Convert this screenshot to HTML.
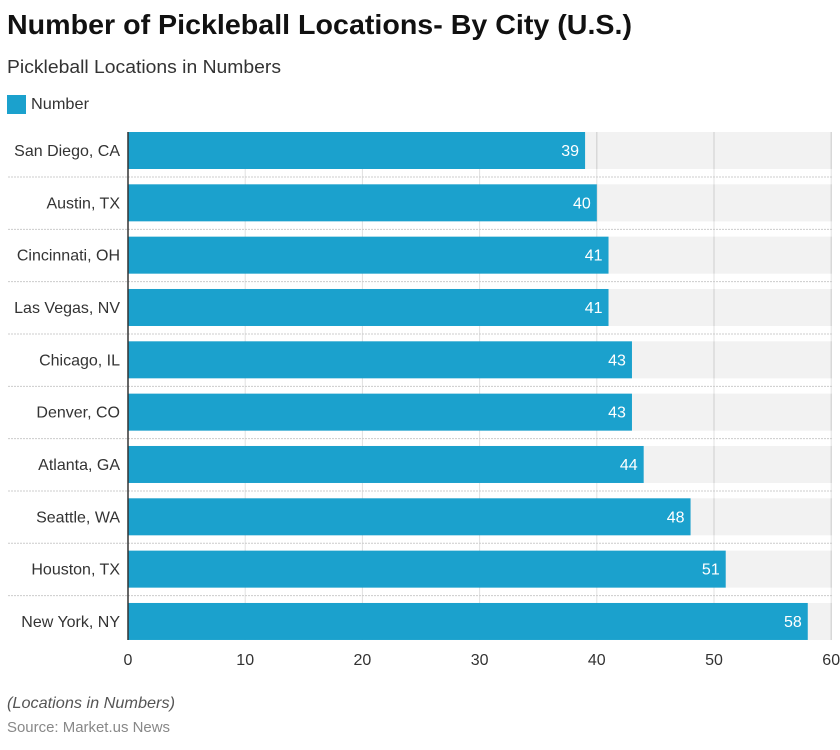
<!DOCTYPE html>
<html><head><meta charset="utf-8"><style>
body{margin:0;background:#fff;width:840px;height:745px;overflow:hidden;font-family:"Liberation Sans",sans-serif}
</style></head><body>
<svg width="840" height="745" xmlns="http://www.w3.org/2000/svg" font-family="Liberation Sans, sans-serif">
<text x="7" y="34" font-size="28" font-weight="bold" fill="#111" textLength="625" lengthAdjust="spacingAndGlyphs">Number of Pickleball Locations- By City (U.S.)</text>
<text x="7" y="73" font-size="18" fill="#333" textLength="274" lengthAdjust="spacingAndGlyphs">Pickleball Locations in Numbers</text>
<rect x="7" y="95" width="19" height="19" fill="#1ba1cd"/>
<text x="31" y="109" font-size="16" fill="#333" textLength="58" lengthAdjust="spacingAndGlyphs">Number</text>
<g id="rows"></g>
<text x="7" y="708" font-size="16" font-style="italic" fill="#555" textLength="168" lengthAdjust="spacingAndGlyphs">(Locations in Numbers)</text>
<text x="7" y="732" font-size="15" fill="#888" textLength="163" lengthAdjust="spacingAndGlyphs">Source: Market.us News</text>
</svg>
<script>
var d=[["San Diego, CA",39],["Austin, TX",40],["Cincinnati, OH",41],["Las Vegas, NV",41],["Chicago, IL",43],["Denver, CO",43],["Atlanta, GA",44],["Seattle, WA",48],["Houston, TX",51],["New York, NY",58]];
var s="",x0=128,k=11.72;
for(var i=0;i<10;i++){var y=132+i*52.33;
s+='<rect x="128" y="'+y+'" width="704" height="37" fill="#f2f2f2"/>';}
for(var t=1;t<=6;t++){var gx=x0+t*k*10;s+='<line x1="'+gx+'" y1="132" x2="'+gx+'" y2="640" stroke="#e0e0e0" stroke-width="1"/>';}
for(var t=1;t<=6;t++){var gx=x0+t*k*10;for(var i=0;i<10;i++){var y=132+i*52.33;s+='<line x1="'+gx+'" y1="'+y+'" x2="'+gx+'" y2="'+(y+37)+'" stroke="#cfcfcf" stroke-width="1"/>';}}
for(var i=0;i<10;i++){var y=132+i*52.33,w=d[i][1]*k;
s+='<rect x="128" y="'+y+'" width="'+w+'" height="37" fill="#1ba1cd"/>';
s+='<text x="'+(128+w-6)+'" y="'+(y+24)+'" font-size="16" fill="#fff" text-anchor="end">'+d[i][1]+'</text>';
s+='<text x="120" y="'+(y+24)+'" font-size="16" fill="#333" text-anchor="end">'+d[i][0]+'</text>';
if(i<9)s+='<line x1="8" y1="'+(y+45)+'" x2="832" y2="'+(y+45)+'" stroke="#ccc" stroke-dasharray="2,1"/>';}
s+='<line x1="128" y1="132" x2="128" y2="640" stroke="#333" stroke-width="1.5"/>';
for(var t=0;t<=6;t++){s+='<text x="'+(x0+t*k*10)+'" y="665" font-size="16" fill="#333" text-anchor="middle">'+(t*10)+'</text>';}
document.getElementById("rows").innerHTML=s;
</script>
</body></html>
